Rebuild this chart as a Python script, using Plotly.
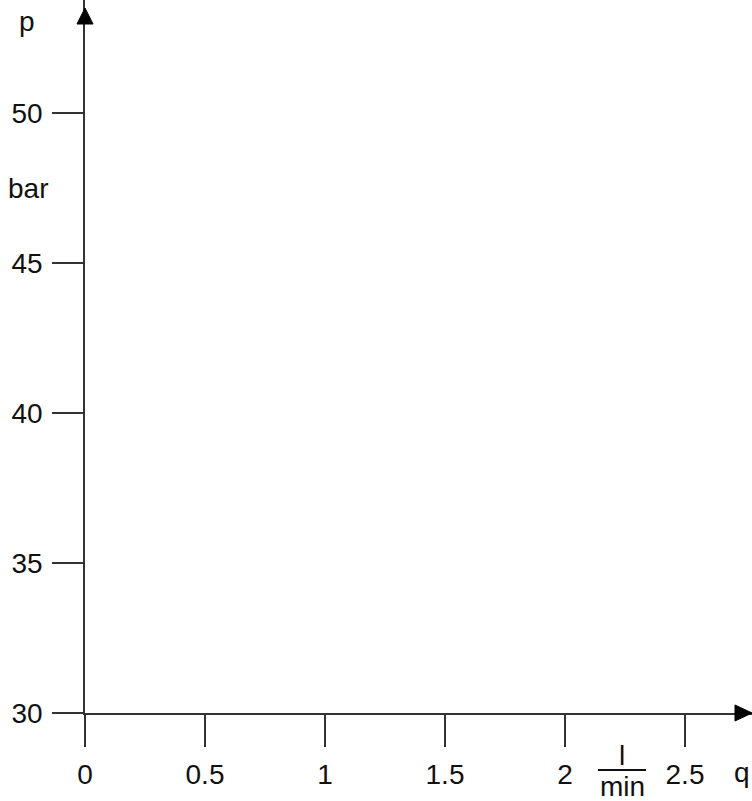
import plotly.graph_objects as go

# Axis ticks and labels
q_ticks = [0, 0.5, 1, 1.5, 2, 2.5]
q_labels = ["0", "0.5", "1", "1.5", "2", "2.5"]
p_ticks = [30, 35, 40, 45, 50]
p_labels = ["30", "35", "40", "45", "50"]

W, H = 752, 801
ML, MB = 85, 88          # plot-area origin in pixels
PX_Q = 240.0             # pixels per l/min
PX_P = 30.0              # pixels per bar

q_max = (W - ML) / PX_Q
p_min = 30
p_max = p_min + (H - MB) / PX_P

FONT = dict(family="Liberation Sans, Arial, sans-serif", size=28, color="#111111")
LINE = "#333333"

fig = go.Figure()
# empty trace so the axes are drawn
fig.add_trace(go.Scatter(x=[], y=[], mode="lines", showlegend=False))

fig.update_layout(
    width=W, height=H,
    margin=dict(l=ML, r=0, t=0, b=MB),
    paper_bgcolor="white", plot_bgcolor="white",
    font=FONT,
    showlegend=False,
    xaxis=dict(
        range=[0, q_max], tickvals=q_ticks, ticktext=q_labels,
        showgrid=False, zeroline=False, showline=True, linecolor=LINE, linewidth=1.5,
        ticks="outside", ticklen=32, tickwidth=1.5, tickcolor=LINE,
        tickfont=FONT, ticklabelstandoff=4, fixedrange=True,
    ),
    yaxis=dict(
        range=[p_min, p_max], tickvals=p_ticks, ticktext=p_labels,
        showgrid=False, zeroline=False, showline=True, linecolor=LINE, linewidth=1.5,
        ticks="outside", ticklen=31, tickwidth=1.5, tickcolor=LINE,
        tickfont=FONT, ticklabelstandoff=4, fixedrange=True,
    ),
)

# arrow heads on both axes (paper coordinates of the plot area)
dx = 1.0 / (W - ML)
dy = 1.0 / (H - MB)
fig.add_shape(type="path", xref="paper", yref="paper",
              path=f"M {-8*dx} {1-24*dy} L {8*dx} {1-24*dy} L 0 {1-8*dy} Z",
              fillcolor="black", line=dict(color="black", width=1))
fig.add_shape(type="path", xref="paper", yref="paper",
              path=f"M {1-17*dx} {8*dy} L {1-17*dx} {-8*dy} L 1 0 Z",
              fillcolor="black", line=dict(color="black", width=1))

# axis titles and unit
fig.add_annotation(text="p", xref="paper", yref="paper", x=-58*dx, y=1-22*dy,
                   yanchor="middle", xanchor="center", showarrow=False, font=FONT)
fig.add_annotation(text="bar", xref="paper", yref="paper", x=-57*dx, y=1-188*dy,
                   yanchor="middle", xanchor="center", showarrow=False, font=FONT)
fig.add_annotation(text="q", xref="paper", yref="paper", x=1-10*dx, y=-60*dy,
                   yanchor="middle", xanchor="center", showarrow=False, font=FONT)

# l/min fraction
fig.add_annotation(text="l", xref="paper", yref="paper", x=(622-ML)*dx, y=-(755-713)*dy,
                   yanchor="middle", xanchor="center", showarrow=False, font=FONT)
fig.add_annotation(text="min", xref="paper", yref="paper", x=(622-ML)*dx, y=-(786-713)*dy,
                   yanchor="middle", xanchor="center", showarrow=False, font=FONT)
fig.add_shape(type="line", xref="paper", yref="paper",
              x0=(598-ML)*dx, x1=(646-ML)*dx, y0=-(770-713)*dy, y1=-(770-713)*dy,
              line=dict(color="#111111", width=2))

fig.write_html("out.html")
